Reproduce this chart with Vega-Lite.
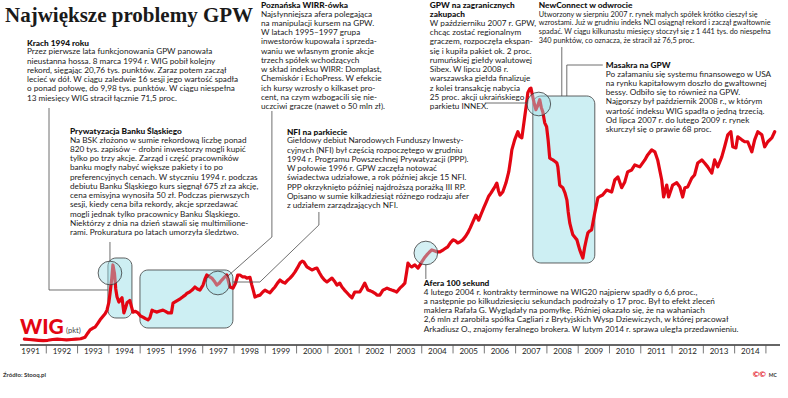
{
  "$schema": "https://vega.github.io/schema/vega-lite/v6.json",
  "width": 760,
  "height": 309,
  "autosize": "none",
  "padding": {"left": 20, "top": 34, "right": 8, "bottom": 55},
  "background": "white",
  "config": {"view": {"stroke": null}, "font": "Lato"},
  "datasets": {
    "wig": [
      {"t":1991.30,"v":1000},{"t":1991.45,"v":900},{"t":1991.60,"v":800},{"t":1991.75,"v":700},{"t":1991.90,"v":600},
      {"t":1992.05,"v":700},{"t":1992.20,"v":900},{"t":1992.35,"v":1000},{"t":1992.50,"v":900},{"t":1992.65,"v":800},{"t":1992.80,"v":900},{"t":1992.95,"v":1000},
      {"t":1993.10,"v":1100},{"t":1993.24,"v":1500},{"t":1993.33,"v":2600},{"t":1993.40,"v":3400},{"t":1993.48,"v":3800},{"t":1993.56,"v":4100},{"t":1993.64,"v":5000},{"t":1993.72,"v":6000},{"t":1993.80,"v":6800},{"t":1993.88,"v":7600},{"t":1993.94,"v":8500},
      {"t":1994.00,"v":10500},{"t":1994.04,"v":13000},{"t":1994.09,"v":16500},{"t":1994.13,"v":20200},{"t":1994.18,"v":18000},{"t":1994.22,"v":14000},{"t":1994.26,"v":12000},{"t":1994.32,"v":10600},{"t":1994.37,"v":11200},{"t":1994.42,"v":11700},{"t":1994.48,"v":7800},{"t":1994.53,"v":9000},{"t":1994.58,"v":10400},{"t":1994.67,"v":11000},{"t":1994.72,"v":9500},{"t":1994.77,"v":8000},{"t":1994.85,"v":8200},{"t":1994.93,"v":7800},
      {"t":1995.01,"v":7000},{"t":1995.09,"v":6700},{"t":1995.17,"v":6300},{"t":1995.25,"v":6000},{"t":1995.31,"v":6500},{"t":1995.38,"v":8500},{"t":1995.46,"v":8200},{"t":1995.54,"v":8000},{"t":1995.63,"v":8300},{"t":1995.73,"v":8500},{"t":1995.81,"v":8200},{"t":1995.89,"v":7800},
      {"t":1996.00,"v":7800},{"t":1996.05,"v":10300},{"t":1996.13,"v":10700},{"t":1996.21,"v":11100},{"t":1996.29,"v":11500},{"t":1996.37,"v":12000},{"t":1996.44,"v":12400},{"t":1996.50,"v":12900},{"t":1996.58,"v":13200},{"t":1996.66,"v":13700},{"t":1996.75,"v":14500},{"t":1996.83,"v":14000},{"t":1996.91,"v":13700},
      {"t":1997.01,"v":15000},{"t":1997.07,"v":16500},{"t":1997.13,"v":17600},{"t":1997.21,"v":17200},{"t":1997.29,"v":16800},{"t":1997.37,"v":16000},{"t":1997.45,"v":15000},{"t":1997.53,"v":15500},{"t":1997.61,"v":16300},{"t":1997.69,"v":17000},{"t":1997.77,"v":17600},{"t":1997.82,"v":16000},{"t":1997.87,"v":14500},{"t":1997.97,"v":14200},
      {"t":1998.05,"v":15500},{"t":1998.12,"v":17600},{"t":1998.19,"v":17600},{"t":1998.28,"v":17100},{"t":1998.35,"v":17100},{"t":1998.41,"v":16800},{"t":1998.51,"v":17000},{"t":1998.57,"v":15000},{"t":1998.62,"v":13500},{"t":1998.67,"v":11900},{"t":1998.75,"v":12200},{"t":1998.83,"v":12400},{"t":1998.92,"v":13200},{"t":1998.99,"v":13700},
      {"t":1999.07,"v":13300},{"t":1999.15,"v":13000},{"t":1999.23,"v":13800},{"t":1999.31,"v":14500},{"t":1999.39,"v":15500},{"t":1999.47,"v":16300},{"t":1999.55,"v":15800},{"t":1999.63,"v":15500},{"t":1999.71,"v":16200},{"t":1999.79,"v":16800},{"t":1999.87,"v":17500},{"t":1999.95,"v":18400},
      {"t":2000.03,"v":19500},{"t":2000.11,"v":20700},{"t":2000.18,"v":21200},{"t":2000.23,"v":21000},{"t":2000.33,"v":19700},{"t":2000.41,"v":19300},{"t":2000.49,"v":18900},{"t":2000.57,"v":19200},{"t":2000.65,"v":19400},{"t":2000.73,"v":18200},{"t":2000.81,"v":17100},{"t":2000.89,"v":16300},{"t":2000.97,"v":15800},
      {"t":2001.05,"v":16300},{"t":2001.13,"v":16800},{"t":2001.21,"v":16000},{"t":2001.29,"v":15000},{"t":2001.38,"v":15500},{"t":2001.45,"v":14500},{"t":2001.53,"v":13700},{"t":2001.61,"v":13000},{"t":2001.69,"v":12300},{"t":2001.77,"v":11700},{"t":2001.86,"v":13200},{"t":2001.94,"v":13200},
      {"t":2002.02,"v":13200},{"t":2002.10,"v":14300},{"t":2002.18,"v":15500},{"t":2002.28,"v":13700},{"t":2002.36,"v":13500},{"t":2002.44,"v":13200},{"t":2002.52,"v":12800},{"t":2002.57,"v":12400},{"t":2002.66,"v":12400},{"t":2002.76,"v":13700},{"t":2002.84,"v":14000},{"t":2002.89,"v":14200},{"t":2002.97,"v":13900},
      {"t":2003.04,"v":13700},{"t":2003.12,"v":13500},{"t":2003.20,"v":13200},{"t":2003.30,"v":14200},{"t":2003.38,"v":14800},{"t":2003.46,"v":15500},{"t":2003.52,"v":18500},{"t":2003.56,"v":20700},{"t":2003.62,"v":20000},{"t":2003.68,"v":19700},{"t":2003.78,"v":20200},{"t":2003.88,"v":19400},{"t":2003.95,"v":20300},
      {"t":2004.00,"v":21000},{"t":2004.08,"v":22000},{"t":2004.16,"v":22800},{"t":2004.24,"v":23500},{"t":2004.32,"v":24100},{"t":2004.40,"v":23900},{"t":2004.48,"v":23600},{"t":2004.58,"v":23600},{"t":2004.70,"v":24200},{"t":2004.83,"v":24900},{"t":2004.92,"v":26000},
      {"t":2005.00,"v":26700},{"t":2005.07,"v":26500},{"t":2005.15,"v":25900},{"t":2005.23,"v":26200},{"t":2005.31,"v":26700},{"t":2005.39,"v":27500},{"t":2005.47,"v":28500},{"t":2005.55,"v":29800},{"t":2005.63,"v":31300},{"t":2005.73,"v":33100},{"t":2005.82,"v":31800},{"t":2005.90,"v":33400},{"t":2005.98,"v":35000},
      {"t":2006.06,"v":36500},{"t":2006.14,"v":38000},{"t":2006.21,"v":38800},{"t":2006.27,"v":39600},{"t":2006.34,"v":40500},{"t":2006.40,"v":41400},{"t":2006.45,"v":39500},{"t":2006.50,"v":38300},{"t":2006.59,"v":39100},{"t":2006.69,"v":41400},{"t":2006.78,"v":44300},{"t":2006.84,"v":47500},{"t":2006.88,"v":50000},{"t":2006.97,"v":52600},
      {"t":2007.07,"v":54700},{"t":2007.13,"v":53500},{"t":2007.20,"v":53100},{"t":2007.29,"v":58500},{"t":2007.35,"v":62000},{"t":2007.39,"v":64800},{"t":2007.45,"v":65800},{"t":2007.49,"v":66000},{"t":2007.55,"v":63700},{"t":2007.60,"v":61800},{"t":2007.65,"v":60400},{"t":2007.71,"v":61500},{"t":2007.77,"v":63000},{"t":2007.82,"v":61000},{"t":2007.87,"v":59800},{"t":2007.93,"v":57000},{"t":2007.99,"v":56000},
      {"t":2008.04,"v":52500},{"t":2008.09,"v":47900},{"t":2008.14,"v":47600},{"t":2008.19,"v":47400},{"t":2008.26,"v":47000},{"t":2008.32,"v":46600},{"t":2008.35,"v":45600},{"t":2008.41,"v":40900},{"t":2008.46,"v":40500},{"t":2008.51,"v":40200},{"t":2008.58,"v":38800},{"t":2008.64,"v":37000},{"t":2008.68,"v":34000},{"t":2008.73,"v":31100},{"t":2008.78,"v":29500},{"t":2008.83,"v":28000},{"t":2008.90,"v":27300},{"t":2008.96,"v":26700},
      {"t":2009.00,"v":25500},{"t":2009.05,"v":24100},{"t":2009.10,"v":23000},{"t":2009.15,"v":22000},{"t":2009.21,"v":24900},{"t":2009.26,"v":26800},{"t":2009.31,"v":28500},{"t":2009.37,"v":29000},{"t":2009.43,"v":29300},{"t":2009.53,"v":33700},{"t":2009.63,"v":37600},{"t":2009.70,"v":38000},{"t":2009.78,"v":38300},{"t":2009.91,"v":39600},
      {"t":2010.07,"v":39100},{"t":2010.17,"v":42200},{"t":2010.27,"v":43000},{"t":2010.39,"v":40200},{"t":2010.49,"v":41700},{"t":2010.58,"v":44300},{"t":2010.71,"v":44800},{"t":2010.81,"v":46100},{"t":2010.97,"v":45600},
      {"t":2011.13,"v":47400},{"t":2011.22,"v":48700},{"t":2011.35,"v":50000},{"t":2011.45,"v":49500},{"t":2011.54,"v":47400},{"t":2011.67,"v":42200},{"t":2011.73,"v":37800},{"t":2011.83,"v":40900},{"t":2011.89,"v":37800},
      {"t":2012.02,"v":40900},{"t":2012.15,"v":41500},{"t":2012.25,"v":40400},{"t":2012.34,"v":37800},{"t":2012.41,"v":40200},{"t":2012.50,"v":40400},{"t":2012.63,"v":42700},{"t":2012.72,"v":43500},{"t":2012.82,"v":46600},{"t":2012.95,"v":47400},
      {"t":2013.04,"v":46600},{"t":2013.14,"v":45600},{"t":2013.27,"v":44000},{"t":2013.36,"v":47400},{"t":2013.46,"v":45600},{"t":2013.59,"v":48200},{"t":2013.68,"v":50800},{"t":2013.78,"v":53900},{"t":2013.88,"v":54700},{"t":2013.94,"v":50800},
      {"t":2014.04,"v":50500},{"t":2014.10,"v":53400},{"t":2014.23,"v":52600},{"t":2014.32,"v":52100},{"t":2014.42,"v":52100},{"t":2014.55,"v":49500},{"t":2014.64,"v":52600},{"t":2014.74,"v":54700},{"t":2014.87,"v":53900},{"t":2014.96,"v":50800},
      {"t":2015.06,"v":52100},{"t":2015.19,"v":53100},{"t":2015.28,"v":54700}
    ],
    "years": [
      {"year":1991},{"year":1992},{"year":1993},{"year":1994},{"year":1995},{"year":1996},{"year":1997},{"year":1998},{"year":1999},{"year":2000},{"year":2001},{"year":2002},{"year":2003},{"year":2004},{"year":2005},{"year":2006},{"year":2007},{"year":2008},{"year":2009},{"year":2010},{"year":2011},{"year":2012},{"year":2013},{"year":2014},{"year":2015}
    ],
    "masks": [
      {"t":1991.320,"t2":1998.029,"v":79223,"v2":61359},
      {"t":1992.694,"t2":1998.764,"v":56440,"v2":26408},
      {"t":1998.796,"t2":2002.406,"v":88803,"v2":60065},
      {"t":2004.195,"t2":2007.134,"v":88803,"v2":60065},
      {"t":2007.678,"t2":2015.377,"v":88803,"v2":76634},
      {"t":2009.818,"t2":2015.377,"v":73269,"v2":54628},
      {"t":1999.626,"t2":2005.601,"v":56181,"v2":33916},
      {"t":2004.003,"t2":2013.940,"v":17087,"v2":2071}
    ],
    "boxes": [
      {"t":1993.971,"t2":1994.738,"v":22007,"v2":6473},
      {"t":1994.994,"t2":1997.965,"v":18900,"v2":3884},
      {"t":2007.550,"t2":2009.531,"v":63948,"v2":20712}
    ],
    "rings": [
      {"t":1994.035,"v":18123},
      {"t":1997.486,"v":15534},
      {"t":2004.131,"v":23301},
      {"t":2007.741,"v":61877}
    ],
    "links": [
      {"id":"krach","seq":1,"t":1992.087,"v":60842},{"id":"krach","seq":2,"t":1992.087,"v":13722},{"id":"krach","seq":3,"t":1993.971,"v":13722},
      {"id":"bsk","seq":1,"t":1994.035,"v":26149},{"id":"bsk","seq":2,"t":1994.035,"v":21230},
      {"id":"wirr","seq":1,"t":1999.211,"v":60065},{"id":"wirr","seq":2,"t":1999.211,"v":27443},{"id":"wirr","seq":3,"t":1997.805,"v":17346},
      {"id":"nfi","seq":1,"t":2000.713,"v":33916},{"id":"nfi","seq":2,"t":2000.713,"v":30550},{"id":"nfi","seq":3,"t":1998.828,"v":15793},{"id":"nfi","seq":4,"t":1997.965,"v":15793},
      {"id":"gpw","seq":1,"t":2006.016,"v":62136},{"id":"gpw","seq":2,"t":2007.390,"v":62136},
      {"id":"nc","seq":1,"t":2008.476,"v":76634},{"id":"nc","seq":2,"t":2008.476,"v":63948},
      {"id":"mas","seq":1,"t":2009.786,"v":71974},{"id":"mas","seq":2,"t":2008.636,"v":71974},{"id":"mas","seq":3,"t":2008.636,"v":63948},
      {"id":"afera","seq":1,"t":2004.131,"v":20453},{"id":"afera","seq":2,"t":2004.131,"v":16570}
    ],
    "notes": [
      {"t":1991.384,"v":78706,"bv":76246,"head":["Krach 1994 roku"],"body":["Przez pierwsze lata funkcjonowania GPW panowała","nieustanna hossa. 8 marca 1994 r. WIG pobił kolejny","rekord, sięgając 20,76 tys. punktów. Zaraz potem zaczął","lecieć w dół. W ciągu zaledwie 16 sesji jego wartość spadła","o ponad połowę, do 9,98 tys. punktów. W ciągu niespełna","13 miesięcy WIG stracił łącznie 71,5 proc."]},
      {"t":1992.757,"v":55922,"bv":53462,"head":["Prywatyzacja Banku Śląskiego"],"body":["Na BSK złożono w sumie rekordową liczbę ponad","820 tys. zapisów – drobni inwestorzy mogli kupić","tylko po trzy akcje. Zarząd i część pracowników","banku mogły nabyć większe pakiety i to po","preferencyjnych cenach. W styczniu 1994 r. podczas","debiutu Banku Śląskiego kurs sięgnął 675 zł za akcję,","cena emisyjna wynosiła 50 zł. Podczas pierwszych","sesji, kiedy cena biła rekordy, akcje sprzedawać","mogli jednak tylko pracownicy Banku Śląskiego.","Niektórzy z dnia na dzień stawali się multimilione-","rami. Prokuratura po latach umorzyła śledztwo."]},
      {"t":1998.860,"v":88544,"bv":86084,"head":["Poznańska WIRR-ówka"],"body":["Najsłynniejsza afera polegająca","na manipulacji kursem na GPW.","W latach 1995–1997 grupa","inwestorów kupowała i sprzeda-","waniu we własnym gronie akcje","trzech spółek wchodzących","w skład indeksu WIRR: Domplast,","Chemiskór i EchoPress. W efekcie","ich kursy wzrosły o kilkaset pro-","cent, na czym wzbogacili się nie-","uczciwi gracze (nawet o 50 mln zł)."]},
      {"t":2004.259,"v":88544,"bv":83689,"head":["GPW na zagranicznych","zakupach"],"body":["W październiku 2007 r. GPW,","chcąc zostać regionalnym","graczem, rozpoczęła ekspan-","się i kupiła pakiet ok. 2 proc.","rumuńskiej giełdy walutowej","Sibex. W lipcu 2008 r.","warszawska giełda finalizuje","z kolei transakcję nabycia","25 proc. akcji ukraińskiego","parkietu INNEX."]},
      {"t":2007.741,"v":88544,"bv":86084,"head":["NewConnect w odwrocie"],"body":["Utworzony w sierpniu 2007 r. rynek małych spółek krótko cieszył się","wzrostami. Już w grudniu indeks NCI osiągnął rekord i zaczął gwałtownie","spadać. W ciągu kilkunastu miesięcy stoczył się z 1 441 tys. do niespełna","340 punktów, co oznacza, że stracił aż 76,5 proc."]},
      {"t":2009.882,"v":73010,"bv":70550,"head":["Masakra na GPW"],"body":["Po załamaniu się systemu finansowego w USA","na rynku kapitałowym doszło do gwałtownej","bessy. Odbiło się to również na GPW.","Najgorszy był październik 2008 r., w którym","wartość indeksu WIG spadła o jedną trzecią.","Od lipca 2007 r. do lutego 2009 r. rynek","skurczył się o prawie 68 proc."]},
      {"t":1999.690,"v":55664,"bv":53204,"head":["NFI na parkiecie"],"body":["Giełdowy debiut Narodowych Funduszy Inwesty-","cyjnych (NFI) był częścią rozpoczętego w grudniu","1994 r. Programu Powszechnej Prywatyzacji (PPP).","W połowie 1996 r. GPW zaczęła notować","świadectwa udziałowe, a rok później akcje 15 NFI.","PPP okrzyknięto później najdroższą porażką III RP.","Opisano w sumie kilkadziesiąt różnego rodzaju afer","z udziałem zarządzających NFI."]},
      {"t":2004.067,"v":16570,"bv":14110,"head":["Afera 100 sekund"],"body":["4 lutego 2004 r. kontrakty terminowe na WIG20 najpierw spadły o 6,6 proc.,","a następnie po kilkudziesięciu sekundach podrożały o 17 proc. Był to efekt zleceń","maklera Rafała G. Wyglądały na pomyłkę. Później okazało się, że na wahaniach","2,6 mln zł zarobiła spółka Cagliari z Brytyjskich Wysp Dziewiczych, w której pracował","Arkadiusz O., znajomy feralnego brokera. W lutym 2014 r. sprawa uległa przedawnieniu."]}
    ]
  },
  "layer": [
    {
      "data": {"name": "wig"},
      "mark": {"type": "line", "opacity": 0, "strokeWidth": 0.1},
      "encoding": {
        "x": {"field": "t", "type": "quantitative", "scale": {"domain": [1991.16, 2015.45], "nice": false, "zero": false}, "axis": null},
        "y": {"field": "v", "type": "quantitative", "scale": {"domain": [0, 80000], "nice": false, "zero": false},
          "axis": {
            "title": null, "values": [0,10000,20000,30000,40000,50000,60000,70000,80000],
            "domain": false, "ticks": false, "grid": true,
            "gridColor": "#999999", "gridWidth": 0.7, "gridDash": [1, 1],
            "labelExpr": "replace(format(datum.value, ','), ',', ' ')",
            "labelFont": "Lato", "labelFontSize": 6.5, "labelColor": "#555555", "labelPadding": 2
          }
        }
      }
    },
    {
      "data": {"name": "masks"},
      "mark": {"type": "rect", "fill": "white", "strokeWidth": 0},
      "encoding": {
        "x": {"field": "t", "type": "quantitative", "scale": {"domain": [1991.16, 2015.45], "nice": false, "zero": false}, "axis": null},
        "x2": {"field": "t2"},
        "y": {"field": "v", "type": "quantitative", "scale": {"domain": [0, 80000], "nice": false, "zero": false}, "axis": null},
        "y2": {"field": "v2"}
      }
    },
    {
      "data": {"name": "boxes"},
      "mark": {"type": "rect", "fill": "#cdeff3", "stroke": "#3a3a3a", "strokeWidth": 0.8, "cornerRadius": 8},
      "encoding": {
        "x": {"field": "t", "type": "quantitative", "scale": {"domain": [1991.16, 2015.45], "nice": false, "zero": false}, "axis": null},
        "x2": {"field": "t2"},
        "y": {"field": "v", "type": "quantitative", "scale": {"domain": [0, 80000], "nice": false, "zero": false}, "axis": null},
        "y2": {"field": "v2"}
      }
    },
    {
      "data": {"values": [{}]},
      "mark": {"type": "rule", "color": "#333333", "strokeWidth": 1.6},
      "encoding": {
        "x": {"datum": 1991.16, "type": "quantitative", "scale": {"domain": [1991.16, 2015.45], "nice": false, "zero": false}, "axis": null},
        "x2": {"datum": 2015.45},
        "y": {"datum": -518, "type": "quantitative", "scale": {"domain": [0, 80000], "nice": false, "zero": false}, "axis": null}
      }
    },
    {
      "data": {"name": "years"},
      "transform": [{"filter": "datum.year > 1991"}],
      "mark": {"type": "rule", "color": "#555555", "strokeWidth": 0.8},
      "encoding": {
        "x": {"field": "year", "type": "quantitative", "scale": {"domain": [1991.16, 2015.45], "nice": false, "zero": false}, "axis": null},
        "y": {"datum": -518, "type": "quantitative", "scale": {"domain": [0, 80000], "nice": false, "zero": false}, "axis": null},
        "y2": {"datum": -2700}
      }
    },
    {
      "data": {"name": "years"},
      "transform": [{"filter": "datum.year < 2015"}],
      "mark": {"type": "text", "align": "center", "baseline": "middle", "dx": 15.65, "font": "Lato", "fontSize": 8, "color": "#222222"},
      "encoding": {
        "x": {"field": "year", "type": "quantitative", "scale": {"domain": [1991.16, 2015.45], "nice": false, "zero": false}, "axis": null},
        "y": {"datum": -2330, "type": "quantitative", "scale": {"domain": [0, 80000], "nice": false, "zero": false}, "axis": null},
        "text": {"field": "year", "type": "nominal"}
      }
    },
    {
      "data": {"name": "wig"},
      "mark": {"type": "line", "color": "#e30613", "strokeWidth": 3.2, "strokeJoin": "round", "strokeCap": "round"},
      "encoding": {
        "x": {"field": "t", "type": "quantitative", "scale": {"domain": [1991.16, 2015.45], "nice": false, "zero": false}, "axis": null},
        "y": {"field": "v", "type": "quantitative", "scale": {"domain": [0, 80000], "nice": false, "zero": false}, "axis": null}
      }
    },
    {
      "data": {"name": "rings"},
      "mark": {"type": "point", "shape": "circle", "filled": true, "size": 560, "fill": "#9fdde6", "fillOpacity": 0.45, "stroke": "#3a3a3a", "strokeWidth": 0.8, "opacity": 1, "strokeOpacity": 1},
      "encoding": {
        "x": {"field": "t", "type": "quantitative", "scale": {"domain": [1991.16, 2015.45], "nice": false, "zero": false}, "axis": null},
        "y": {"field": "v", "type": "quantitative", "scale": {"domain": [0, 80000], "nice": false, "zero": false}, "axis": null}
      }
    },
    {
      "data": {"name": "links"},
      "mark": {"type": "line", "color": "#4a4a4a", "strokeWidth": 0.8},
      "encoding": {
        "x": {"field": "t", "type": "quantitative", "scale": {"domain": [1991.16, 2015.45], "nice": false, "zero": false}, "axis": null},
        "y": {"field": "v", "type": "quantitative", "scale": {"domain": [0, 80000], "nice": false, "zero": false}, "axis": null},
        "detail": {"field": "id"},
        "order": {"field": "seq", "type": "quantitative"}
      }
    },
    {
      "data": {"name": "notes"},
      "mark": {"type": "text", "align": "left", "baseline": "top", "font": "Lato", "fontSize": 8.3, "fontWeight": 900, "lineHeight": 9.25, "color": "#111111"},
      "encoding": {
        "x": {"field": "t", "type": "quantitative", "scale": {"domain": [1991.16, 2015.45], "nice": false, "zero": false}, "axis": null},
        "y": {"field": "v", "type": "quantitative", "scale": {"domain": [0, 80000], "nice": false, "zero": false}, "axis": null},
        "text": {"field": "head"}
      }
    },
    {
      "data": {"name": "notes"},
      "transform": [{"filter": "indexof(datum.head[0], 'NewConnect') < 0"}],
      "mark": {"type": "text", "align": "left", "baseline": "top", "font": "Lato", "fontSize": 8.2, "lineHeight": 9.25, "color": "#222222"},
      "encoding": {
        "x": {"field": "t", "type": "quantitative", "scale": {"domain": [1991.16, 2015.45], "nice": false, "zero": false}, "axis": null},
        "y": {"field": "bv", "type": "quantitative", "scale": {"domain": [0, 80000], "nice": false, "zero": false}, "axis": null},
        "text": {"field": "body"}
      }
    },
    {
      "data": {"name": "notes"},
      "transform": [{"filter": "indexof(datum.head[0], 'NewConnect') >= 0"}],
      "mark": {"type": "text", "align": "left", "baseline": "top", "font": "Lato", "fontSize": 7.3, "lineHeight": 8.8, "color": "#222222"},
      "encoding": {
        "x": {"field": "t", "type": "quantitative", "scale": {"domain": [1991.16, 2015.45], "nice": false, "zero": false}, "axis": null},
        "y": {"field": "bv", "type": "quantitative", "scale": {"domain": [0, 80000], "nice": false, "zero": false}, "axis": null},
        "text": {"field": "body"}
      }
    },
    {
      "data": {"values": [{}]},
      "mark": {"type": "text", "align": "left", "baseline": "alphabetic", "font": "Liberation Serif", "fontSize": 21, "fontWeight": "bold", "color": "#1a1a1a"},
      "encoding": {
        "x": {"datum": 1990.681, "type": "quantitative", "scale": {"domain": [1991.16, 2015.45], "nice": false, "zero": false}, "axis": null},
        "y": {"datum": 83107, "type": "quantitative", "scale": {"domain": [0, 80000], "nice": false, "zero": false}, "axis": null},
        "text": {"value": "Największe problemy GPW"}
      }
    },
    {
      "data": {"values": [{}]},
      "mark": {"type": "text", "align": "left", "baseline": "alphabetic", "font": "Lato", "fontSize": 21, "fontWeight": 900, "color": "#e30613"},
      "encoding": {
        "x": {"datum": 1991.16, "type": "quantitative", "scale": {"domain": [1991.16, 2015.45], "nice": false, "zero": false}, "axis": null},
        "y": {"datum": 2330, "type": "quantitative", "scale": {"domain": [0, 80000], "nice": false, "zero": false}, "axis": null},
        "text": {"value": "WIG"}
      }
    },
    {
      "data": {"values": [{}]},
      "mark": {"type": "text", "align": "left", "baseline": "alphabetic", "font": "Lato", "fontSize": 7.5, "color": "#444444"},
      "encoding": {
        "x": {"datum": 1992.63, "type": "quantitative", "scale": {"domain": [1991.16, 2015.45], "nice": false, "zero": false}, "axis": null},
        "y": {"datum": 2589, "type": "quantitative", "scale": {"domain": [0, 80000], "nice": false, "zero": false}, "axis": null},
        "text": {"value": "(pkt)"}
      }
    },
    {
      "data": {"values": [{}]},
      "mark": {"type": "text", "align": "left", "baseline": "middle", "font": "Lato", "fontSize": 6, "fontWeight": "bold", "color": "#333333"},
      "encoding": {
        "x": {"datum": 1990.617, "type": "quantitative", "scale": {"domain": [1991.16, 2015.45], "nice": false, "zero": false}, "axis": null},
        "y": {"datum": -8285, "type": "quantitative", "scale": {"domain": [0, 80000], "nice": false, "zero": false}, "axis": null},
        "text": {"value": "Źródło: Stooq.pl"}
      }
    },
    {
      "data": {"values": [{}]},
      "mark": {"type": "text", "align": "left", "baseline": "middle", "font": "Lato", "fontSize": 8, "fontWeight": "bold", "color": "#e30613"},
      "encoding": {
        "x": {"datum": 2014.579, "type": "quantitative", "scale": {"domain": [1991.16, 2015.45], "nice": false, "zero": false}, "axis": null},
        "y": {"datum": -8285, "type": "quantitative", "scale": {"domain": [0, 80000], "nice": false, "zero": false}, "axis": null},
        "text": {"value": "©©"}
      }
    },
    {
      "data": {"values": [{}]},
      "mark": {"type": "text", "align": "left", "baseline": "middle", "font": "Lato", "fontSize": 5, "fontWeight": "bold", "color": "#333333"},
      "encoding": {
        "x": {"datum": 2015.09, "type": "quantitative", "scale": {"domain": [1991.16, 2015.45], "nice": false, "zero": false}, "axis": null},
        "y": {"datum": -8285, "type": "quantitative", "scale": {"domain": [0, 80000], "nice": false, "zero": false}, "axis": null},
        "text": {"value": "MC"}
      }
    }
  ]
}
